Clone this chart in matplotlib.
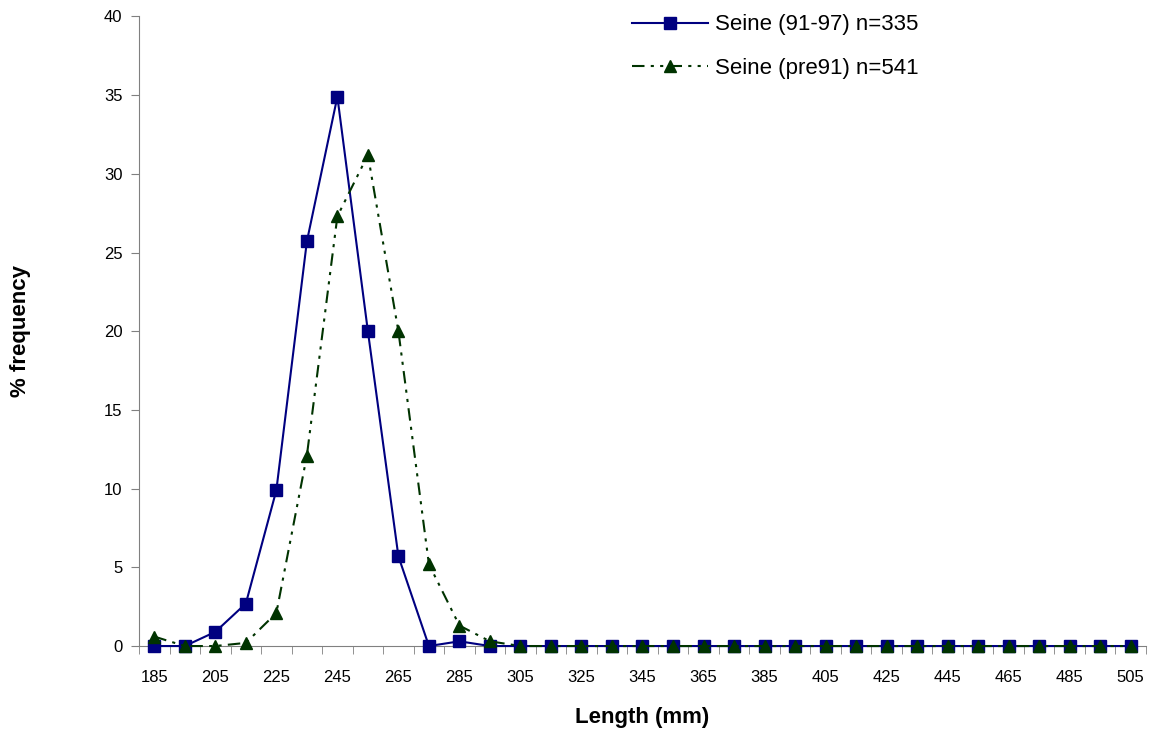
"""Length frequency of Seine samples, two periods."""
import numpy as np
from matplotlib import pyplot as plt

plt.rcParams['font.family'] = ['Liberation Sans', 'DejaVu Sans']

BLUE = '#000080'
GREEN = '#003300'
AXIS_GREY = '#808080'

lengths = list(range(185, 506, 10))

seine_91_97 = [0, 0, 0.9, 2.7, 9.9, 25.7, 34.9, 20.0, 5.7, 0, 0.3, 0,
               0, 0, 0, 0, 0, 0, 0, 0, 0, 0, 0, 0, 0, 0, 0, 0, 0, 0, 0, 0, 0]
seine_pre91 = [0.6, 0, 0, 0.2, 2.1, 12.1, 27.3, 31.2, 20.0, 5.2, 1.3, 0.3,
               0, 0, 0, 0, 0, 0, 0, 0, 0, 0, 0, 0, 0, 0, 0, 0, 0, 0, 0, 0, 0]

label_91_97 = 'Seine (91-97) n=335'
label_pre91 = 'Seine (pre91) n=541'


def main() -> None:
    fig = plt.figure(figsize=(11.54, 7.39), dpi=100)
    fig.patch.set_facecolor('white')
    ax = fig.add_axes([0.1205, 0.1258, 0.8725, 0.852])

    x = np.arange(len(lengths))
    ax.plot(x, seine_91_97, color=BLUE, lw=1.5, marker='s', markersize=9,
            markerfacecolor=BLUE, markeredgecolor=BLUE, label=label_91_97, zorder=3)
    ax.plot(x, seine_pre91, color=GREEN, lw=1.5, marker='^', markersize=9,
            markerfacecolor=GREEN, markeredgecolor=GREEN, dashes=(6, 3, 1.5, 3, 1.5, 3),
            label=label_pre91, zorder=4)

    ax.set_xlim(-0.5, len(lengths) - 0.5)
    ax.set_ylim(0, 40)
    ax.set_yticks(np.arange(0, 41, 5))

    # category labels every other bin, tick marks on bin boundaries
    ax.set_xticks(x[::2])
    ax.set_xticklabels([str(v) for v in lengths[::2]])
    ax.set_xticks(np.arange(-0.5, len(lengths), 1), minor=True)
    ax.tick_params(axis='x', which='major', length=0, pad=17, labelsize=12)
    ax.tick_params(axis='x', which='minor', direction='out', length=6,
                   color=AXIS_GREY)
    ax.tick_params(axis='y', direction='out', length=6, color=AXIS_GREY,
                   labelsize=12, pad=6)

    for side in ('top', 'right'):
        ax.spines[side].set_visible(False)
    for side in ('left', 'bottom'):
        ax.spines[side].set_color(AXIS_GREY)
    for line in ax.lines:
        line.set_clip_on(False)

    ax.set_xlabel('Length (mm)', fontsize=16, fontweight='bold', labelpad=16)
    ax.yaxis.set_label_coords(-0.107, 0.53)
    ax.set_ylabel('% frequency', fontsize=16, fontweight='bold')

    ax.legend(loc='upper left', bbox_to_anchor=(0.47, 1.035), frameon=False,
              fontsize=16, handlelength=3.4, handletextpad=0.3, labelspacing=1.0)

    plt.savefig('out.png', dpi=100)


if __name__ == "__main__":
    main()
